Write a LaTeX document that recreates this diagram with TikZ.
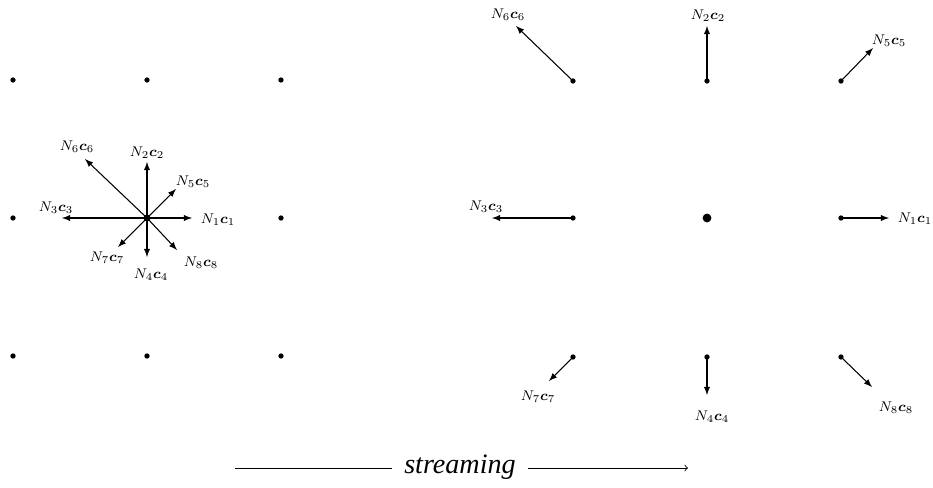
\documentclass[tikz,border=0pt]{standalone}
\usepackage{amsmath}
\usepackage{fontspec}
\newfontfamily\streamfont{Liberation Serif}
\usetikzlibrary{arrows}

\tikzset{
  site/.style={circle,fill,inner sep=0pt,minimum size=3pt},
  rest/.style={circle,fill,inner sep=0pt,minimum size=5pt},
  vel/.style={-latex,line width=0.6pt},
  lab/.style={inner sep=0pt,font=\footnotesize},
}

\begin{document}
\begin{tikzpicture}[x=0.02cm,y=-0.02cm]
        \useasboundingbox (0,0) rectangle (933,487);
        % lattice before streaming
        \foreach \i/\x in {0/13,1/147,2/281}{
            \foreach \j/\y in {0/80,1/218,2/356}{
                \node[site] (l\i\j) at (\x,\y) {};
            }
        }
        \node[site,minimum size=4pt] at (l11) {};
        \foreach \k/\tx/\ty/\lx/\ly in {1/192/218/218/220,2/147/162/147/153,
            3/62/218/56/208,4/147/257/151/275,5/176/189/193/182,
            6/85/159/77/147,7/118/247/107/258,8/177/250/201/263}{
            \coordinate (lt\k) at (\tx,\ty);
            \node[lab] (ll\k) at (\lx,\ly) {$N_\k\boldsymbol{c}_\k$};
            \draw[vel] (l11.center) -- (lt\k);
        }
        % lattice after streaming
        \foreach \i/\x in {0/573,1/707,2/841}{
            \foreach \j/\y in {0/81,1/218,2/357}{
                \node[site] (r\i\j) at (\x,\y) {};
            }
        }
        \node[rest] at (r11) {};
        \foreach \k/\s/\tx/\ty/\lx/\ly in {1/r21/889/218/915/219,2/r10/707/26/708/16,
            3/r01/492/218/486/207,4/r12/707/395/712/417,5/r20/873/48/889/41,
            6/r00/516/26/508/15,7/r02/549/381/538/397,8/r22/872/387/896/408}{
            \coordinate (rt\k) at (\tx,\ty);
            \node[lab] (rl\k) at (\lx,\ly) {$N_\k\boldsymbol{c}_\k$};
            \draw[vel] (\s.center) -- (rt\k);
        }
        % streaming arrow
        \node[inner sep=7pt,font=\streamfont\itshape\fontsize{16}{18}\selectfont] (stream) at (460,467) {streaming};
        \coordinate (s0) at (235,468);
        \coordinate (s1) at (688,468);
        \draw[line width=0.5pt] (s0) -- (s0 -| stream.west);
        \draw[->,line width=0.5pt] (s1 -| stream.east) -- (s1);
    \end{tikzpicture}
\end{document}
